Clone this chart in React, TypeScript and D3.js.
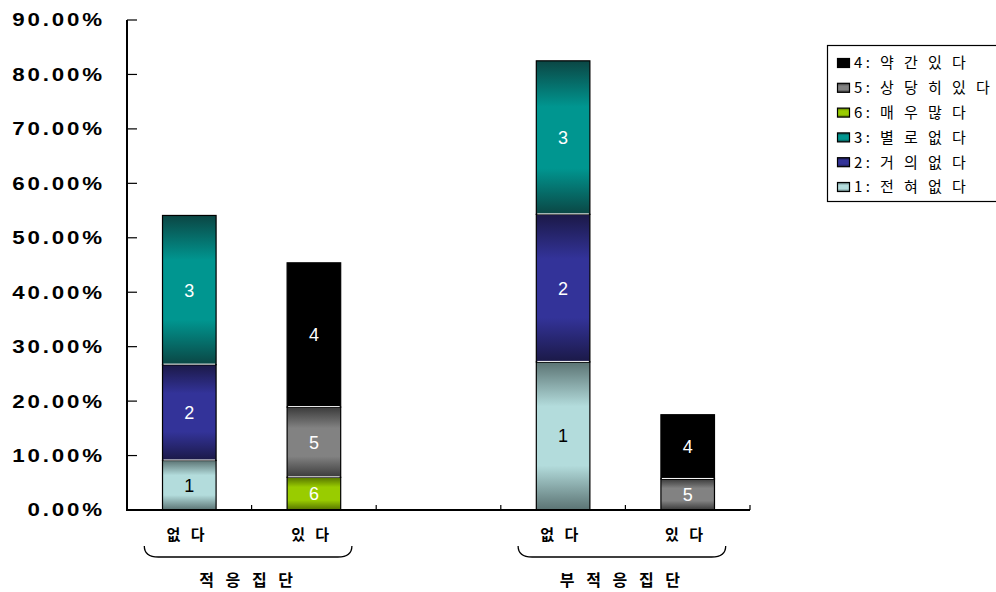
import React from "react";
import * as d3 from "d3";

// Categories along the x axis (the middle slot is an empty spacer between groups)
const categories = ["없 다", "있 다", "", "없 다", "있 다"];
const groups = [
  { label: "적 응 집 단", from: 0, to: 1 },
  { label: "부 적 응 집 단", from: 3, to: 4 },
];

// Percentages per response level, one value per category
const level1 = [9.1, 0, 0, 27.2, 0];
const level2 = [17.6, 0, 0, 27.1, 0];
const level3 = [27.4, 0, 0, 28.2, 0];
const level6 = [0, 6.0, 0, 0, 0];
const level5 = [0, 12.9, 0, 0, 5.7];
const level4 = [0, 26.5, 0, 0, 11.8];

const yTicks = [0, 10, 20, 30, 40, 50, 60, 70, 80, 90];

// Stack order bottom -> top
const stackKeys = ["1", "2", "3", "6", "5", "4"];
const legendKeys = ["4", "5", "6", "3", "2", "1"];
const legendNames: Record<string, string> = {
  "4": "약 간 있 다",
  "5": "상 당 히 있 다",
  "6": "매 우 많 다",
  "3": "별 로 없 다",
  "2": "거 의 없 다",
  "1": "전 혀 없 다",
};

const seriesByKey: Record<string, number[]> = {
  "1": level1,
  "2": level2,
  "3": level3,
  "4": level4,
  "5": level5,
  "6": level6,
};

// edge / middle tones for the banded fills
const tones: Record<string, [string, string]> = {
  "1": ["#5b7373", "#b3dcdc"],
  "2": ["#1b1947", "#333399"],
  "3": ["#0b4644", "#009690"],
  "4": ["#000000", "#000000"],
  "5": ["#3a3a3a", "#828282"],
  "6": ["#557300", "#99cc00"],
};
const labelColor: Record<string, string> = {
  "1": "#000",
  "2": "#fff",
  "3": "#fff",
  "4": "#fff",
  "5": "#fff",
  "6": "#fff",
};

const W = 996;
const H = 592;
const left = 127;
const right = 750;
const top = 20;
const bottom = 510;

export default function App() {
  const table = categories.map((c, i) => {
    const row: Record<string, number> = { i };
    stackKeys.forEach((k) => (row[k] = seriesByKey[k][i]));
    return row;
  });
  const stacked = d3.stack<Record<string, number>>().keys(stackKeys)(table);

  const x = d3
    .scaleBand<number>()
    .domain(categories.map((_, i) => i))
    .range([left, right])
    .padding(0);
  const y = d3.scaleLinear().domain([0, 90]).range([bottom, top]);
  const bw = x.bandwidth() * 0.43;
  const korean = "'Noto Sans CJK KR', 'Noto Sans', sans-serif";
  const latin = "'Liberation Sans', Arial, sans-serif";

  return (
    <svg
      width={W}
      height={H}
      style={{ position: "absolute", left: 0, top: 0, background: "#fff" }}
    >
      <defs>
        {Object.entries(tones).map(([k, [edge, mid]]) => (
          <linearGradient key={k} id={`g${k}`} x1="0" y1="0" x2="0" y2="1">
            <stop offset="0" stopColor={edge} />
            <stop offset="0.3" stopColor={mid} />
            <stop offset="0.7" stopColor={mid} />
            <stop offset="1" stopColor={edge} />
          </linearGradient>
        ))}
      </defs>

      {/* stacked bars */}
      {stacked.map((s) =>
        s.map((d, i) => {
          const v = d[1] - d[0];
          if (v <= 0) return null;
          const x0 = (x(i) as number) + (x.bandwidth() - bw) / 2;
          const y0 = y(d[1]);
          const h = y(d[0]) - y(d[1]);
          const isBottom = d[0] === 0;
          return (
            <g key={`${s.key}-${i}`}>
              <rect
                x={x0}
                y={y0}
                width={bw}
                height={h}
                fill={`url(#g${s.key})`}
                stroke="#000"
                strokeWidth={1.2}
              />
              {!isBottom && (
                <line
                  x1={x0 + 1}
                  x2={x0 + bw - 1}
                  y1={y(d[0]) - 0.5}
                  y2={y(d[0]) - 0.5}
                  stroke="#fff"
                  strokeWidth={1}
                />
              )}
              <text
                x={x0 + bw / 2}
                y={y0 + h / 2}
                dy="0.36em"
                textAnchor="middle"
                fontFamily={latin}
                fontSize={18}
                fill={labelColor[s.key]}
              >
                {s.key}
              </text>
            </g>
          );
        })
      )}

      {/* y axis */}
      <line x1={left} x2={left} y1={top} y2={bottom} stroke="#000" strokeWidth={2} />
      {yTicks.map((t) => (
        <g key={t}>
          <line x1={left} x2={left + 10} y1={y(t)} y2={y(t)} stroke="#000" strokeWidth={1.2} />
          <text
            transform={`translate(105,${y(t)}) scale(1.24,1)`}
            dy="0.36em"
            textAnchor="end"
            fontFamily={latin}
            fontWeight="bold"
            fontSize={18}
            letterSpacing={2.3}
            fill="#000"
          >
            {`${t.toFixed(2)}%`}
          </text>
        </g>
      ))}

      {/* x axis */}
      <line x1={left - 1} x2={right} y1={bottom} y2={bottom} stroke="#000" strokeWidth={2} />
      {categories.map((_, i) => {
        const bx = (x(i) as number) + x.bandwidth();
        return (
          <line key={i} x1={bx} x2={bx} y1={bottom} y2={bottom - 5} stroke="#000" strokeWidth={1.2} />
        );
      })}
      {categories.map((c, i) =>
        c ? (
          <text
            key={`c${i}`}
            x={(x(i) as number) + x.bandwidth() / 2 - 2}
            y={535}
            dy="0.36em"
            textAnchor="middle"
            fontFamily={korean}
            fontWeight="bold"
            fontSize={15}
            letterSpacing={3.5}
            fill="#000"
            style={{ whiteSpace: "pre" }}
          >
            {c}
          </text>
        ) : null
      )}

      {/* group braces and names */}
      {groups.map((g) => {
        const a = (x(g.from) as number) + x.bandwidth() / 2 - 45;
        const b = (x(g.to) as number) + x.bandwidth() / 2 + 38;
        const yTop = 546;
        const yBot = 557;
        const path = `M${a},${yTop} Q${a},${yBot} ${a + 14},${yBot} L${b - 14},${yBot} Q${b},${yBot} ${b},${yTop}`;
        return (
          <g key={g.label}>
            <path d={path} fill="none" stroke="#000" strokeWidth={1.3} />
            <text
              x={(a + b) / 2}
              y={580}
              dy="0.36em"
              textAnchor="middle"
              fontFamily={korean}
              fontWeight="bold"
              fontSize={16}
              letterSpacing={4}
              fill="#000"
              style={{ whiteSpace: "pre" }}
            >
              {g.label}
            </text>
          </g>
        );
      })}

      {/* legend */}
      <rect x={827.5} y={45.5} width={170} height={156} fill="#fff" stroke="#000" strokeWidth={1.2} />
      {legendKeys.map((k, j) => {
        const cy = 63 + j * 24.8;
        return (
          <g key={k}>
            <rect
              x={837.5}
              y={cy - 4.5}
              width={12}
              height={9}
              fill={`url(#g${k})`}
              stroke="#000"
              strokeWidth={1.2}
            />
            <text
              x={854}
              y={cy}
              dy="0.36em"
              fontFamily={korean}
              fontSize={15}
              letterSpacing={3.4}
              fill="#000"
              style={{ whiteSpace: "pre" }}
            >
              {`${k}: ${legendNames[k]}`}
            </text>
          </g>
        );
      })}
    </svg>
  );
}
